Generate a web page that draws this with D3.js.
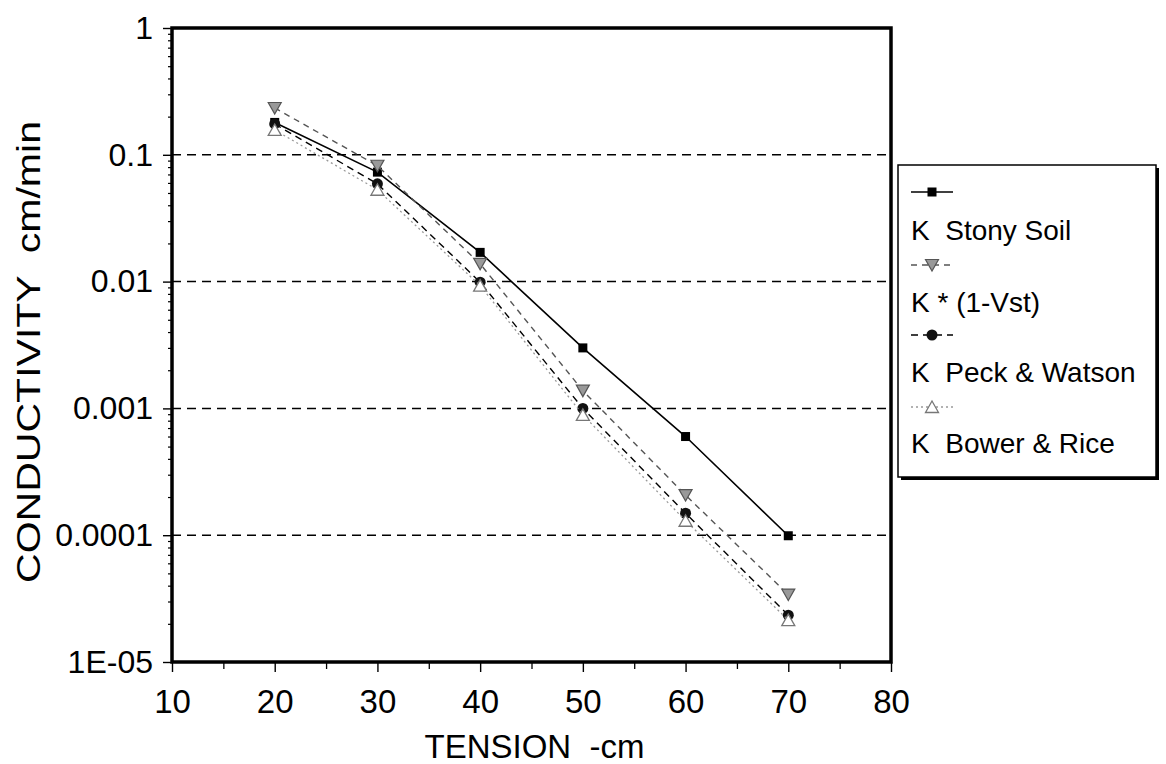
<!DOCTYPE html>
<html>
<head>
<meta charset="utf-8">
<title>Conductivity vs tension</title>
<script src="https://d3js.org/d3.v7.min.js"></script>
<style>
  body { margin: 0; background: #fff; }
  text { font-family: "Liberation Sans", Arial, sans-serif; fill: #000; white-space: pre; }
</style>
</head>
<body>
<div id="chart"></div>
<script>
// data
var tensions = [20, 30, 40, 50, 60, 70];
var stonySoil = [0.18, 0.073, 0.017, 0.0030, 0.00060, 0.000099];
var kVst = [0.234, 0.082, 0.0138, 0.00138, 0.000207, 0.000034];
var peckWatson = [0.175, 0.059, 0.0099, 0.0010, 0.000149, 0.0000234];
var bowerRice = [0.157, 0.053, 0.0093, 0.00089, 0.00013, 0.0000214];

var xTicks = [10, 20, 30, 40, 50, 60, 70, 80];
var yTicks = [1e-5, 1e-4, 1e-3, 1e-2, 1e-1, 1];
var yTickLabels = ["1E-05", "0.0001", "0.001", "0.01", "0.1", "1"];
var gridValues = [1e-4, 1e-3, 1e-2, 1e-1];

var series = [
  { name: "K  Stony Soil", values: stonySoil, marker: "square", stroke: "#000", dash: null, width: 1.6 },
  { name: "K * (1-Vst)", values: kVst, marker: "down", stroke: "#555", dash: "6,5", width: 1.4 },
  { name: "K  Peck & Watson", values: peckWatson, marker: "circle", stroke: "#000", dash: "7,5", width: 1.4 },
  { name: "K  Bower & Rice", values: bowerRice, marker: "up", stroke: "#999", dash: "2,3", width: 1.3 }
];

var width = 1166, height = 764;
var plot = { left: 172, right: 891, top: 28, bottom: 662 };

var svg = d3.select("#chart").append("svg")
  .attr("width", width)
  .attr("height", height);

var x = d3.scaleLinear().domain([10, 80]).range([plot.left, plot.right]);
var y = d3.scaleLog().domain([1e-5, 1]).range([plot.bottom, plot.top]);

// dashed gridlines
svg.append("g").selectAll("line")
  .data(gridValues)
  .enter().append("line")
  .attr("x1", plot.left).attr("x2", plot.right)
  .attr("y1", d => y(d)).attr("y2", d => y(d))
  .attr("stroke", "#000")
  .attr("stroke-width", 1.5)
  .attr("stroke-dasharray", "9,6");

// minor log ticks
var minor = [];
yTicks.slice(0, -1).forEach(function(d) {
  for (var k = 2; k < 10; k++) minor.push(d * k);
});
svg.append("g")
  .attr("transform", "translate(" + plot.left + ",0)")
  .call(d3.axisLeft(y).tickValues(minor).tickSize(4).tickFormat(""))
  .call(g => g.select(".domain").remove())
  .call(g => g.selectAll("line").attr("stroke-width", 1.2));

var yAxis = svg.append("g")
  .attr("transform", "translate(" + plot.left + ",0)")
  .call(d3.axisLeft(y).tickValues(yTicks).tickSize(9).tickPadding(10)
    .tickFormat((d, i) => yTickLabels[i]));
yAxis.select(".domain").remove();
yAxis.selectAll("line").attr("stroke-width", 1.4);
yAxis.selectAll("text").style("font-size", "32px");

// x axis minor ticks every 5
var xMinor = [15, 25, 35, 45, 55, 65, 75];
svg.append("g")
  .attr("transform", "translate(0," + plot.bottom + ")")
  .call(d3.axisBottom(x).tickValues(xMinor).tickSize(7).tickFormat(""))
  .call(g => g.select(".domain").remove())
  .call(g => g.selectAll("line").attr("stroke-width", 1.3));

var xAxis = svg.append("g")
  .attr("transform", "translate(0," + plot.bottom + ")")
  .call(d3.axisBottom(x).tickValues(xTicks).tickSize(10).tickPadding(18));
xAxis.select(".domain").remove();
xAxis.selectAll("line").attr("stroke-width", 1.4);
xAxis.selectAll("text").style("font-size", "33px");

// plot frame
svg.append("rect")
  .attr("x", plot.left).attr("y", plot.top)
  .attr("width", plot.right - plot.left)
  .attr("height", plot.bottom - plot.top)
  .attr("fill", "none")
  .attr("stroke", "#000")
  .attr("stroke-width", 3.5);

// axis titles
svg.append("text")
  .attr("x", (plot.left + plot.right) / 2 + 3)
  .attr("y", 758)
  .attr("text-anchor", "middle")
  .style("font-size", "33px")
  .text("TENSION  -cm");

svg.append("text")
  .attr("transform", "translate(40," + 352 + ") rotate(-90)")
  .attr("text-anchor", "middle")
  .style("font-size", "34px")
  .attr("textLength", 462)
  .attr("lengthAdjust", "spacingAndGlyphs")
  .text("CONDUCTIVITY  cm/min");

// markers
function drawMarker(g, type, cx, cy) {
  if (type === "square") {
    g.append("rect").attr("x", cx - 4.5).attr("y", cy - 4.5)
      .attr("width", 9).attr("height", 9).attr("fill", "#000");
  } else if (type === "circle") {
    g.append("circle").attr("cx", cx).attr("cy", cy).attr("r", 5.5).attr("fill", "#111");
  } else if (type === "down") {
    g.append("path")
      .attr("d", "M" + (cx - 6.5) + "," + (cy - 5.5) + "L" + (cx + 6.5) + "," + (cy - 5.5) + "L" + cx + "," + (cy + 6) + "Z")
      .attr("fill", "#999").attr("stroke", "#555").attr("stroke-width", 1.2);
  } else {
    g.append("path")
      .attr("d", "M" + (cx - 6.5) + "," + (cy + 5.5) + "L" + (cx + 6.5) + "," + (cy + 5.5) + "L" + cx + "," + (cy - 6) + "Z")
      .attr("fill", "#fff").attr("stroke", "#777").attr("stroke-width", 1.3);
  }
}

var line = d3.line()
  .x((d, i) => x(tensions[i]))
  .y(d => y(d));

series.forEach(function(s) {
  var g = svg.append("g");
  g.append("path")
    .datum(s.values)
    .attr("d", line)
    .attr("fill", "none")
    .attr("stroke", s.stroke)
    .attr("stroke-width", s.width)
    .attr("stroke-dasharray", s.dash);
  s.values.forEach(function(v, i) {
    drawMarker(g, s.marker, x(tensions[i]), y(v));
  });
});

// legend
var lg = svg.append("g");
lg.append("rect")
  .attr("x", 901).attr("y", 168).attr("width", 258).attr("height", 312)
  .attr("fill", "#000");
lg.append("rect")
  .attr("x", 898).attr("y", 165).attr("width", 258).attr("height", 312)
  .attr("fill", "#fff").attr("stroke", "#000").attr("stroke-width", 1.5);

var symRows = [192, 265, 335, 407];
var textRows = [230, 302, 372, 443];
series.forEach(function(s, i) {
  var row = lg.append("g");
  row.append("line")
    .attr("x1", 911).attr("x2", 953)
    .attr("y1", symRows[i]).attr("y2", symRows[i])
    .attr("stroke", s.stroke)
    .attr("stroke-width", s.width)
    .attr("stroke-dasharray", s.dash);
  drawMarker(row, s.marker, 932, symRows[i]);
  row.append("text")
    .attr("x", 911)
    .attr("y", textRows[i])
    .attr("dy", "0.36em")
    .style("font-size", "28px")
    .text(s.name);
});
</script>
</body>
</html>
